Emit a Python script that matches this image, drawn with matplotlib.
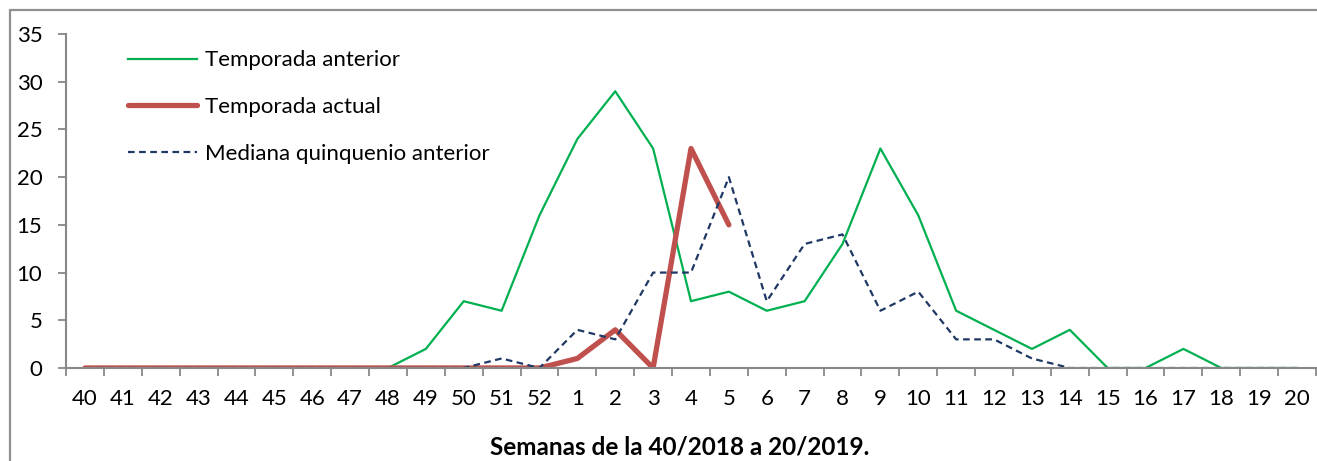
import numpy as np
import matplotlib.pyplot as plt
from matplotlib.patches import Rectangle

# semanas epidemiologicas 40/2018 .. 20/2019
weeks = [str(w) for w in range(40, 53)] + [str(w) for w in range(1, 21)]

temporada_anterior = [0, 0, 0, 0, 0, 0, 0, 0, 0, 2, 7, 6, 16,
                      24, 29, 23, 7, 8, 6, 7, 13, 23, 16, 6, 4, 2, 4,
                      0, 0, 2, 0, 0, 0]
temporada_actual = [0, 0, 0, 0, 0, 0, 0, 0, 0, 0, 0, 0, 0,
                    1, 4, 0, 23, 15]
mediana_quinquenio = [0, 0, 0, 0, 0, 0, 0, 0, 0, 0, 0, 1, 0,
                      4, 3, 10, 10, 20, 7, 13, 14, 6, 8, 3, 3, 1, 0,
                      0, 0, 0, 0, 0, 0]

plt.rcParams['font.family'] = ['Lato', 'DejaVu Sans']

fig = plt.figure(figsize=(13.17, 4.61), dpi=100)
ax = fig.add_axes([66 / 1317, 1 - 368 / 461, 1250 / 1317, 334 / 461])

x = np.arange(len(weeks))
ax.plot(x, temporada_anterior, color='#00B050', lw=1.6, label='Temporada anterior')
ax.plot(x[:len(temporada_actual)], temporada_actual, color='#C0504D', lw=3.8,
        solid_capstyle='round', solid_joinstyle='round', label='Temporada actual')
ax.plot(x, mediana_quinquenio, color='#1F3864', lw=1.6, dashes=(3, 2),
        label='Mediana quinquenio anterior')

ax.set_xlim(-0.5, len(weeks) - 0.5)
ax.set_ylim(0, 35)
ax.set_yticks(range(0, 36, 5))

ax.set_xticks(x)
ax.set_xticklabels(weeks)
ax.set_xticks(np.arange(-0.5, len(weeks), 1), minor=True)
ax.tick_params(axis='x', which='major', length=0, pad=15, labelsize=16)
ax.tick_params(axis='x', which='minor', length=6, width=1.3, color='#888888')
ax.tick_params(axis='y', length=6, width=1.3, color='#888888', pad=11, labelsize=16)

for s in ['top', 'right']:
    ax.spines[s].set_visible(False)
for s in ['left', 'bottom']:
    ax.spines[s].set_color('#888888')
    ax.spines[s].set_linewidth(1.5)

ax.set_xlabel('Semanas de la 40/2018 a 20/2019.', fontsize=17.5, fontweight='bold',
              labelpad=19, x=0.491)

ax.legend(loc='upper left', bbox_to_anchor=(0.0496, 0.951), frameon=False,
          fontsize=16, labelspacing=1.2, handlelength=3.1, handletextpad=0.36,
          borderpad=0, borderaxespad=0)

# marco gris alrededor del grafico
fig.patches.append(Rectangle((10 / 1317, -0.05), 1.2, 1 - 10 / 461 + 0.05,
                             transform=fig.transFigure, fill=False,
                             edgecolor='#909090', lw=1.6))

fig.savefig('out.png', dpi=100)
